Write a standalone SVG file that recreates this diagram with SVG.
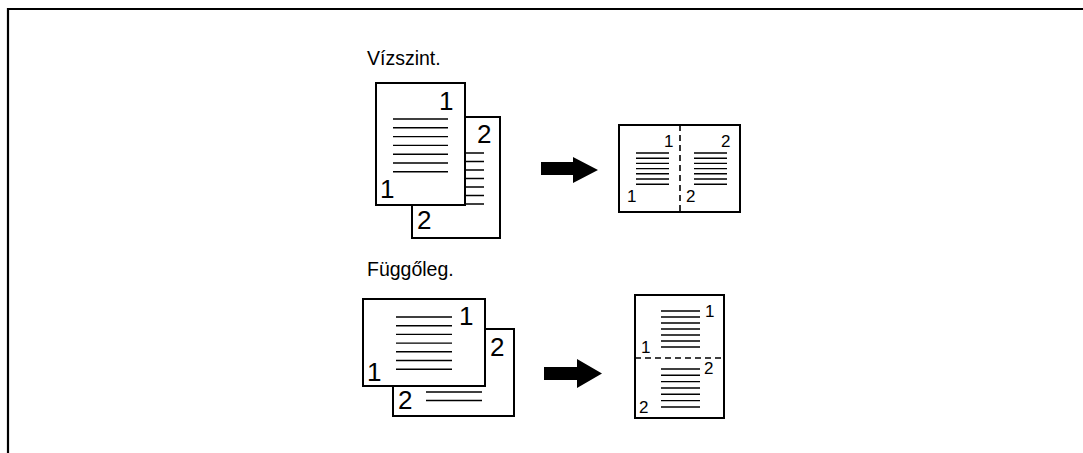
<svg xmlns="http://www.w3.org/2000/svg" width="1083" height="453" viewBox="0 0 1083 453">
<style>
.page{fill:#fff;stroke:#000;stroke-width:2}
.ln{stroke:#000;stroke-width:1.4;fill:none}
.lbl{font-family:"Liberation Sans",Arial,sans-serif;font-size:19.5px;fill:#000}
.big{font-family:"Liberation Sans",Arial,sans-serif;font-size:26px;fill:#000}
.sm{font-family:"Liberation Sans",Arial,sans-serif;font-size:17px;fill:#000}
.dash{stroke:#000;stroke-width:1.6;stroke-dasharray:6 4;fill:none}
.arrow{fill:#000}
</style>
<rect x="0" y="0" width="1083" height="453" fill="#fff"/>
<path d="M8,453V9H1083" fill="none" stroke="#000" stroke-width="2.2"/>

<g id="label-horizontal"><text class="lbl" x="367" y="65">Vízszint.</text></g>

<g id="src-horizontal">
<rect class="page" x="412" y="117" width="88" height="121"/>
<text class="big" x="477" y="143">2</text>
<path class="ln" d="M465,153H484M465,161.5H484M465,170H484M465,178.5H484M465,187H484M465,195.5H484M465,204H484"/>
<text class="big" x="417" y="229">2</text>
<rect class="page" x="376" y="83" width="89" height="122"/>
<text class="big" x="439" y="110">1</text>
<path class="ln" d="M393,119H448M393,127.8H448M393,136.6H448M393,145.4H448M393,154.2H448M393,163H448M393,171.8H448"/>
<text class="big" x="380" y="198">1</text>
</g>

<g id="result-horizontal">
<rect class="page" x="619" y="125" width="121" height="87"/>
<line class="dash" x1="680" y1="125" x2="680" y2="212"/>
<path class="ln" d="M636,153H669M636,158.2H669M636,163.4H669M636,168.6H669M636,173.8H669M636,179H669M636,184.2H669"/>
<path class="ln" d="M694,153H727M694,158.2H727M694,163.4H727M694,168.6H727M694,173.8H727M694,179H727M694,184.2H727"/>
<text class="sm" x="664" y="147">1</text>
<text class="sm" x="721" y="147">2</text>
<text class="sm" x="627" y="202">1</text>
<text class="sm" x="686" y="202">2</text>
</g>

<g id="label-vertical"><text class="lbl" x="367" y="276">Függőleg.</text></g>

<g id="src-vertical">
<rect class="page" x="393" y="329" width="121" height="87"/>
<text class="big" x="490" y="356">2</text>
<path class="ln" d="M426,392H482M426,400.5H482"/>
<text class="big" x="398" y="409">2</text>
<rect class="page" x="363" y="299" width="122" height="87"/>
<text class="big" x="459" y="325">1</text>
<path class="ln" d="M396,317H452M396,325.7H452M396,334.4H452M396,343.1H452M396,351.8H452M396,360.5H452M396,369.2H452"/>
<text class="big" x="367" y="381">1</text>
</g>

<g id="result-vertical">
<rect class="page" x="635" y="295" width="89" height="123"/>
<line class="dash" x1="635" y1="358" x2="724" y2="358"/>
<path class="ln" d="M661,311H700M661,317H700M661,323H700M661,329H700M661,335H700M661,341H700M661,347H700"/>
<path class="ln" d="M661,369H700M661,375.3H700M661,381.6H700M661,388H700M661,394.3H700M661,400.6H700M661,407H700"/>
<text class="sm" x="705" y="317">1</text>
<text class="sm" x="641" y="353">1</text>
<text class="sm" x="704" y="374">2</text>
<text class="sm" x="639" y="413">2</text>
</g>

<g id="connectors">
<path class="arrow" d="M541,162H573V157L598,170L573,183V175H541Z"/>
<path class="arrow" d="M544,367H577V359L602,373.5L577,388V380H544Z"/>
</g>
</svg>
